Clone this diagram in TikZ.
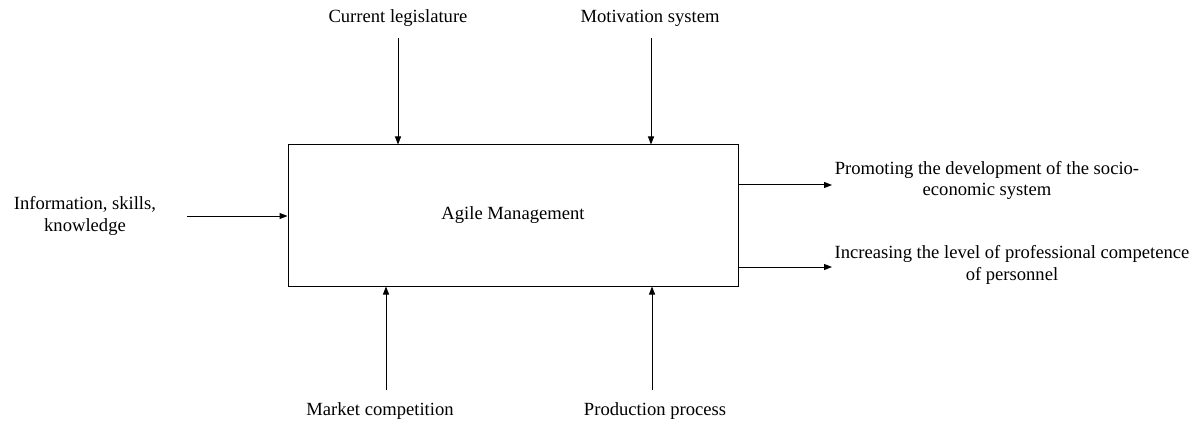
\documentclass[tikz,border=0pt]{standalone}
\usepackage{fontspec}
\setmainfont{Liberation Serif}
\usetikzlibrary{arrows.meta}
\begin{document}
\begin{tikzpicture}[x=1pt,y=-1pt,
  lbl/.style={inner sep=0pt,align=center,font=\fontsize{18.6}{21.5}\selectfont},
  arr/.style={draw,line width=1pt,-{Triangle[length=8pt,width=6pt]}},
  mainbox/.style={draw,line width=1pt,minimum width=450pt,minimum height=141pt,inner sep=0pt,font=\fontsize{18.6}{21.5}\selectfont}]
\useasboundingbox (0,0) rectangle (1200,425);
\node[mainbox] (box) at (513,215.5) {Agile Management};
\node[lbl] (t1) at (398,18) {Current legislature};
\node[lbl] (t2) at (650,18) {Motivation system};
\node[lbl] (b1) at (380,411) {Market competition};
\node[lbl] (b2) at (655,411) {Production process};
\node[lbl] (l1) at (85,216) {Information, skills,\\knowledge};
\node[lbl] (r1) at (987,180.5) {Promoting the development of the socio-\\economic system};
\node[lbl] (r2) at (1012,265) {Increasing the level of professional competence\\of personnel};
\coordinate (t1s) at (398,38);
\coordinate (t2s) at (651,38);
\coordinate (b1s) at (386,390);
\coordinate (b2s) at (652,390);
\coordinate (l1s) at (187,216);
\coordinate (r1e) at (832,185);
\coordinate (r2e) at (832,267);
\draw[arr] (t1s) -- (t1s |- box.north);
\draw[arr] (t2s) -- (t2s |- box.north);
\draw[arr] (b1s) -- (b1s |- box.south);
\draw[arr] (b2s) -- (b2s |- box.south);
\draw[arr] (l1s) -- (l1s -| box.west);
\draw[arr] (r1e -| box.east) -- (r1e);
\draw[arr] (r2e -| box.east) -- (r2e);
\end{tikzpicture}
\end{document}
